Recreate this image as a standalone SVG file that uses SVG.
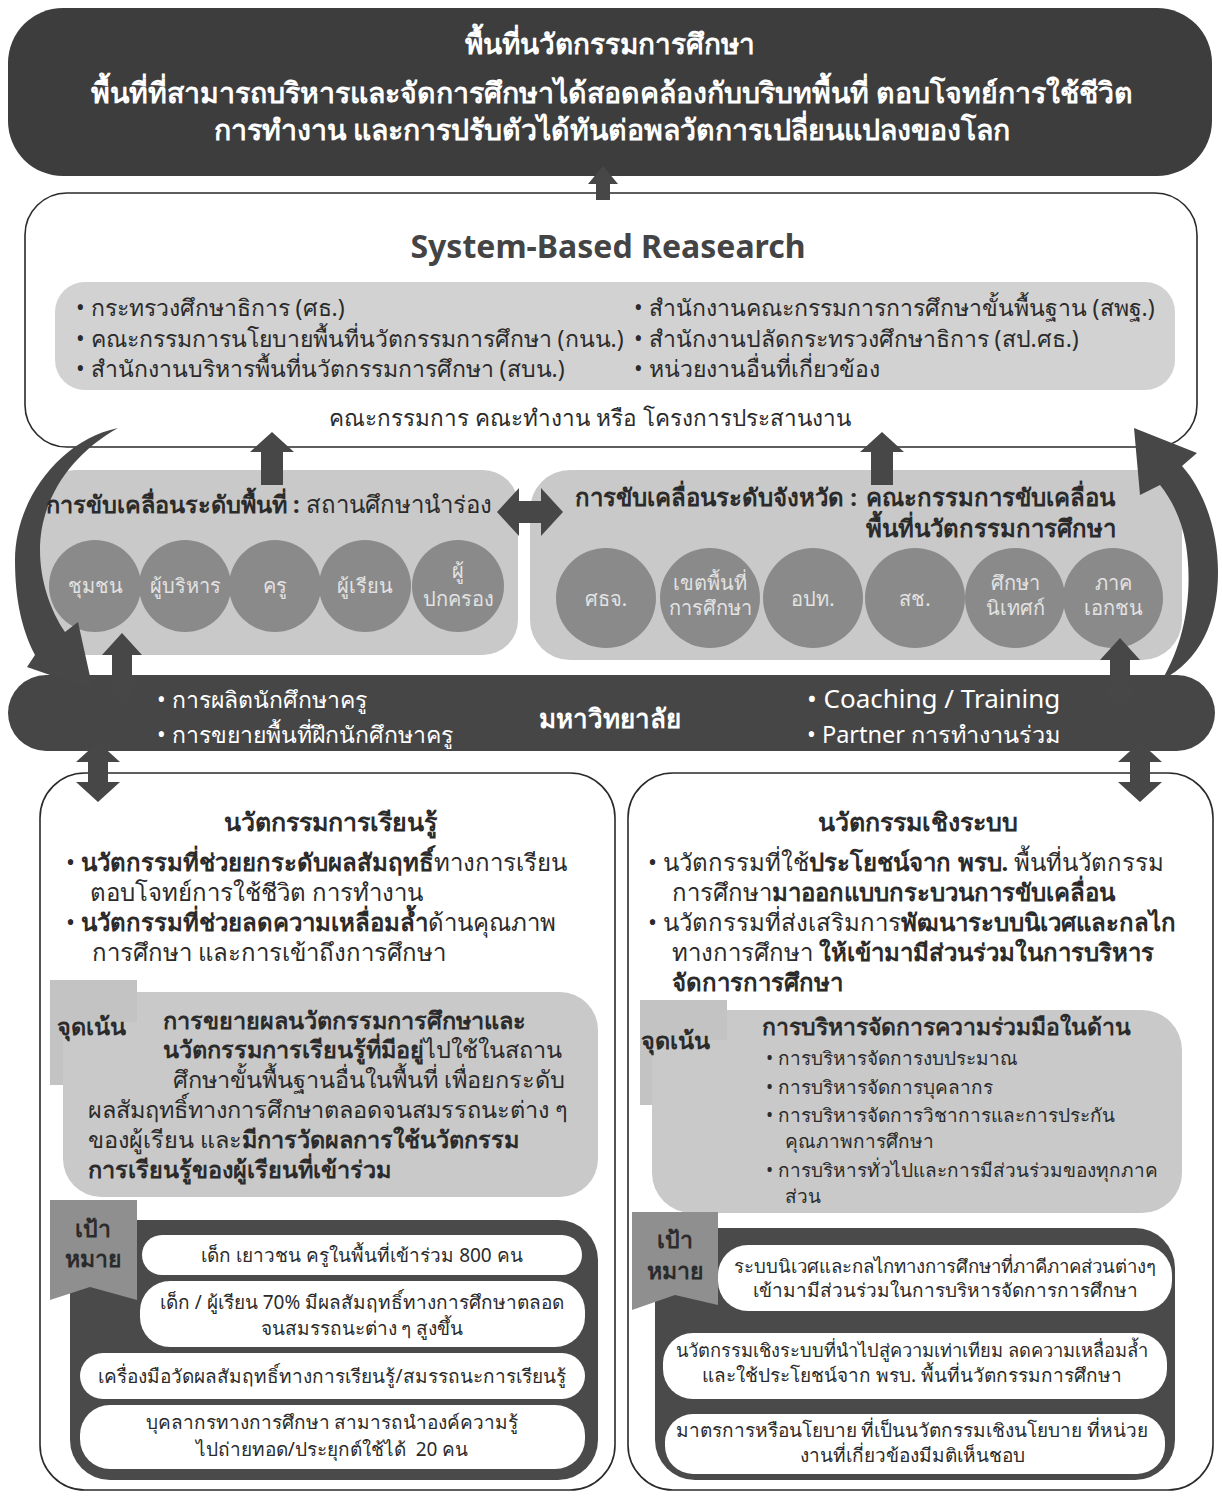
<svg xmlns="http://www.w3.org/2000/svg" width="1222" height="1497" viewBox="0 0 1222 1497">
<style>
text { font-family: "Noto Sans", "DejaVu Sans", sans-serif; }
.w { fill: #ffffff; }
.d { fill: #2b2b2b; }
.b { font-weight: bold; }
.c { text-anchor: middle; }
.ci { fill: #8a8a8a; }
.ct { fill: #e2e2e2; font-size: 20px; text-anchor: middle; }
.ar { fill: #474747; }
.gb { fill: #c9c9c9; }
.pill { fill: #ffffff; }
.box { fill: #ffffff; stroke: #2a2a2a; stroke-width: 1.6; }
</style>
<rect width="1222" height="1497" fill="#ffffff"/>

<g id="top">
  <rect x="8" y="8" width="1204" height="168" rx="55" fill="#3d3d3d"/>
  <text class="w c" x="610" y="54" font-size="28" font-weight="600">พื้นที่นวัตกรรมการศึกษา</text>
  <text class="w c" x="612" y="103" font-size="28.5" font-weight="600">พื้นที่ที่สามารถบริหารและจัดการศึกษาได้สอดคล้องกับบริบทพื้นที่ ตอบโจทย์การใช้ชีวิต</text>
  <text class="w c" x="612" y="140" font-size="28.5" font-weight="600">การทำงาน และการปรับตัวได้ทันต่อพลวัตการเปลี่ยนแปลงของโลก</text>
</g>

<g id="system">
  <rect class="box" x="25" y="193" width="1172" height="254" rx="42"/>
  <text class="b c" x="608" y="258" font-size="32" fill="#444">System-Based Reasearch</text>
  <rect x="55" y="282" width="1120" height="108" rx="30" fill="#d2d2d2"/>
  <g font-size="23">
    <text class="d" x="76" y="316">• กระทรวงศึกษาธิการ (ศธ.)</text>
    <text class="d" x="76" y="347">• คณะกรรมการนโยบายพื้นที่นวัตกรรมการศึกษา (กนน.)</text>
    <text class="d" x="76" y="377">• สำนักงานบริหารพื้นที่นวัตกรรมการศึกษา (สบน.)</text>
    <text class="d" x="634" y="316">• สำนักงานคณะกรรมการการศึกษาขั้นพื้นฐาน (สพฐ.)</text>
    <text class="d" x="634" y="347">• สำนักงานปลัดกระทรวงศึกษาธิการ (สป.ศธ.)</text>
    <text class="d" x="634" y="377">• หน่วยงานอื่นที่เกี่ยวข้อง</text>
  </g>
  <text class="d c" x="590" y="426" font-size="22.5">คณะกรรมการ คณะทำงาน หรือ โครงการประสานงาน</text>
</g>

<g id="area-level">
  <rect class="gb" x="40" y="470" width="478" height="185" rx="35"/>
  <circle class="ci" cx="95" cy="586" r="46"/>
  <circle class="ci" cx="185" cy="586" r="46"/>
  <circle class="ci" cx="275" cy="586" r="46"/>
  <circle class="ci" cx="365" cy="586" r="46"/>
  <circle class="ci" cx="458" cy="586" r="46"/>
  <text class="ct" x="95" y="593">ชุมชน</text>
  <text class="ct" x="185" y="593">ผู้บริหาร</text>
  <text class="ct" x="275" y="593">ครู</text>
  <text class="ct" x="365" y="593">ผู้เรียน</text>
  <text class="ct" x="458" y="578">ผู้</text>
  <text class="ct" x="458" y="606">ปกครอง</text>
</g>

<g id="province-level">
  <rect class="gb" x="530" y="470" width="652" height="190" rx="40"/>
  <text class="d b" x="575" y="506" font-size="24">การขับเคลื่อนระดับจังหวัด :</text>
  <text class="d" x="866" y="506" font-size="24" font-weight="600">คณะกรรมการขับเคลื่อน</text>
  <text class="d" x="866" y="537" font-size="24" font-weight="600">พื้นที่นวัตกรรมการศึกษา</text>
  <circle class="ci" cx="606" cy="598" r="50"/>
  <circle class="ci" cx="710" cy="598" r="50"/>
  <circle class="ci" cx="813" cy="598" r="50"/>
  <circle class="ci" cx="915" cy="598" r="50"/>
  <circle class="ci" cx="1015" cy="598" r="50"/>
  <circle class="ci" cx="1113" cy="598" r="50"/>
  <text class="ct" x="606" y="606">ศธจ.</text>
  <text class="ct" x="710" y="590">เขตพื้นที่</text>
  <text class="ct" x="710" y="615">การศึกษา</text>
  <text class="ct" x="813" y="606">อปท.</text>
  <text class="ct" x="915" y="606">สช.</text>
  <text class="ct" x="1015" y="590">ศึกษา</text>
  <text class="ct" x="1015" y="615">นิเทศก์</text>
  <text class="ct" x="1113" y="590">ภาค</text>
  <text class="ct" x="1113" y="615">เอกชน</text>
</g>

<g id="university">
  <rect x="8" y="675" width="1207" height="76" rx="38" fill="#464646"/>
  <text class="w b c" x="610" y="728" font-size="26">มหาวิทยาลัย</text>
  <text class="w" x="157" y="708" font-size="23">•  การผลิตนักศึกษาครู</text>
  <text class="w" x="157" y="743" font-size="23">•  การขยายพื้นที่ฝึกนักศึกษาครู</text>
  <text class="w" x="807" y="708" font-size="26">•  Coaching / Training</text>
  <text class="w" x="807" y="743" font-size="23.5">•  Partner การทำงานร่วม</text>
</g>

<g id="learning-innovation">
  <rect class="box" x="40" y="773" width="575" height="717" rx="45"/>
  <text class="d b c" x="330" y="831" font-size="25">นวัตกรรมการเรียนรู้</text>
  <g font-size="24">
    <text class="d" x="66" y="871">• <tspan class="b">นวัตกรรมที่ช่วยยกระดับผลสัมฤทธิ์</tspan>ทางการเรียน</text>
    <text class="d" x="90" y="901">ตอบโจทย์การใช้ชีวิต การทำงาน</text>
    <text class="d" x="66" y="931">• <tspan class="b">นวัตกรรมที่ช่วยลดความเหลื่อมล้ำ</tspan>ด้านคุณภาพ</text>
    <text class="d" x="92" y="961">การศึกษา และการเข้าถึงการศึกษา</text>
  </g>
  <rect x="50" y="980" width="87" height="105" fill="#c3c3c3"/>
  <rect class="gb" x="63" y="992" width="535" height="205" rx="38"/>
  <rect x="63" y="992" width="74" height="30" fill="#c3c3c3"/>
  <g font-size="23.5">
    <text class="d b" x="57" y="1035">จุดเน้น</text>
    <text class="d b" x="163" y="1029">การขยายผลนวัตกรรมการศึกษาและ</text>
    <text class="d" x="163" y="1058"><tspan class="b">นวัตกรรมการเรียนรู้ที่มีอยู่</tspan>ไปใช้ในสถาน</text>
    <text class="d" x="173" y="1088">ศึกษาขั้นพื้นฐานอื่นในพื้นที่ เพื่อยกระดับ</text>
    <text class="d" x="88" y="1118">ผลสัมฤทธิ์ทางการศึกษาตลอดจนสมรรถนะต่าง ๆ</text>
    <text class="d" x="88" y="1148">ของผู้เรียน และ<tspan class="b">มีการวัดผลการใช้นวัตกรรม</tspan></text>
    <text class="d b" x="88" y="1178">การเรียนรู้ของผู้เรียนที่เข้าร่วม</text>
  </g>
  <rect x="70" y="1220" width="528" height="260" rx="40" fill="#4a4a4a"/>
  <polygon points="50,1200 137,1200 137,1300 90,1287 50,1300" fill="#8f8f8f"/>
  <text class="d b c" x="93" y="1237" font-size="23">เป้า</text>
  <text class="d b c" x="93" y="1267" font-size="23">หมาย</text>
  <rect class="pill" x="142" y="1235" width="440" height="40" rx="20"/>
  <rect class="pill" x="140" y="1281" width="445" height="66" rx="30"/>
  <rect class="pill" x="80" y="1353" width="505" height="46" rx="23"/>
  <rect class="pill" x="80" y="1405" width="505" height="64" rx="30"/>
  <g font-size="19">
    <text class="d c" x="362" y="1262">เด็ก เยาวชน ครูในพื้นที่เข้าร่วม 800 คน</text>
    <text class="d c" x="362" y="1309">เด็ก / ผู้เรียน 70% มีผลสัมฤทธิ์ทางการศึกษาตลอด</text>
    <text class="d c" x="362" y="1335">จนสมรรถนะต่าง ๆ สูงขึ้น</text>
    <text class="d c" x="332" y="1383">เครื่องมือวัดผลสัมฤทธิ์ทางการเรียนรู้/สมรรถนะการเรียนรู้</text>
    <text class="d c" x="332" y="1429">บุคลากรทางการศึกษา สามารถนำองค์ความรู้</text>
    <text class="d c" x="332" y="1456" xml:space="preserve">ไปถ่ายทอด/ประยุกต์ใช้ได้  20 คน</text>
  </g>
</g>

<g id="system-innovation">
  <rect class="box" x="628" y="773" width="585" height="717" rx="45"/>
  <text class="d b c" x="918" y="831" font-size="25">นวัตกรรมเชิงระบบ</text>
  <g font-size="24">
    <text class="d" x="648" y="871">• นวัตกรรมที่ใช้<tspan class="b">ประโยชน์จาก พรบ.</tspan> พื้นที่นวัตกรรม</text>
    <text class="d" x="672" y="901">การศึกษา<tspan class="b">มาออกแบบกระบวนการขับเคลื่อน</tspan></text>
    <text class="d" x="648" y="931">• นวัตกรรมที่ส่งเสริมการ<tspan class="b">พัฒนาระบบนิเวศและกลไก</tspan></text>
    <text class="d" x="672" y="961">ทางการศึกษา <tspan class="b">ให้เข้ามามีส่วนร่วมในการบริหาร</tspan></text>
    <text class="d b" x="672" y="991">จัดการการศึกษา</text>
  </g>
  <rect x="640" y="1000" width="87" height="105" fill="#c3c3c3"/>
  <rect class="gb" x="652" y="1010" width="530" height="203" rx="40"/>
  <rect x="652" y="1010" width="75" height="30" fill="#c3c3c3"/>
  <text class="d b" x="641" y="1049" font-size="23.5">จุดเน้น</text>
  <text class="d b" x="762" y="1035" font-size="23">การบริหารจัดการความร่วมมือในด้าน</text>
  <g font-size="19">
    <text class="d" x="766" y="1065">•  การบริหารจัดการงบประมาณ</text>
    <text class="d" x="766" y="1094">•  การบริหารจัดการบุคลากร</text>
    <text class="d" x="766" y="1122">•  การบริหารจัดการวิชาการและการประกัน</text>
    <text class="d" x="785" y="1148">คุณภาพการศึกษา</text>
    <text class="d" x="766" y="1177">•  การบริหารทั่วไปและการมีส่วนร่วมของทุกภาค</text>
    <text class="d" x="785" y="1203">ส่วน</text>
  </g>
  <rect x="655" y="1228" width="520" height="252" rx="40" fill="#4a4a4a"/>
  <polygon points="632,1212 718,1212 718,1305 675,1295 632,1310" fill="#8f8f8f"/>
  <text class="d b c" x="675" y="1248" font-size="23">เป้า</text>
  <text class="d b c" x="675" y="1279" font-size="23">หมาย</text>
  <rect class="pill" x="718" y="1245" width="454" height="66" rx="30"/>
  <rect class="pill" x="663" y="1333" width="504" height="66" rx="30"/>
  <rect class="pill" x="665" y="1414" width="500" height="60" rx="28"/>
  <g font-size="19">
    <text class="d c" x="945" y="1273" font-size="18.6">ระบบนิเวศและกลไกทางการศึกษาที่ภาคีภาคส่วนต่างๆ</text>
    <text class="d c" x="945" y="1297">เข้ามามีส่วนร่วมในการบริหารจัดการการศึกษา</text>
    <text class="d c" x="912" y="1357" font-size="18.3">นวัตกรรมเชิงระบบที่นำไปสู่ความเท่าเทียม ลดความเหลื่อมล้ำ</text>
    <text class="d c" x="912" y="1382">และใช้ประโยชน์จาก พรบ. พื้นที่นวัตกรรมการศึกษา</text>
    <text class="d c" x="912" y="1437">มาตรการหรือนโยบาย ที่เป็นนวัตกรรมเชิงนโยบาย ที่หน่วย</text>
    <text class="d c" x="912" y="1462">งานที่เกี่ยวข้องมีมติเห็นชอบ</text>
  </g>
</g>

<g id="connectors">
  <polygon class="ar" points="596,200 596,184 588,184 603,166 618,184 610,184 610,200"/>
  <polygon class="ar" points="261,485 261,452 250,452 272,432 294,452 283,452 283,485"/>
  <polygon class="ar" points="871,485 871,452 860,452 882,432 904,452 893,452 893,485"/>
  <polygon class="ar" points="497,512 519,488 519,501 541,501 541,488 563,512 541,536 541,523 519,523 519,536"/>
  <polygon class="ar" points="122,633 142,655 132,655 132,683 142,683 122,705 102,683 112,683 112,655 102,655"/>
  <polygon class="ar" points="1120,638 1140,660 1130,660 1130,686 1140,686 1120,708 1100,686 1110,686 1110,660 1100,660"/>
  <polygon class="ar" points="98,742 120,762 108,762 108,782 120,782 98,802 76,782 88,782 88,762 76,762"/>
  <polygon class="ar" points="1140,742 1162,762 1150,762 1150,782 1162,782 1140,802 1118,782 1130,782 1130,762 1118,762"/>
  <path class="ar" d="M118,428 C60,440 15,500 15,560 C15,600 22,630 35,655 L27,667 L93,690 L78,622 L65,632 C50,610 40,580 40,550 C40,500 70,455 118,428 Z"/>
  <path class="ar" d="M1162,680 C1186,640 1193,590 1186,545 C1182,520 1172,500 1160,485 L1140,495 L1134,428 L1197,453 L1182,466 C1205,492 1218,532 1218,572 C1218,622 1200,660 1162,680 Z"/>
</g>

<g id="area-level-label">
  <text class="d" x="46" y="513" font-size="23.5"><tspan class="b">การขับเคลื่อนระดับพื้นที่ :</tspan> <tspan font-size="24">สถานศึกษานำร่อง</tspan></text>
</g>
</svg>
